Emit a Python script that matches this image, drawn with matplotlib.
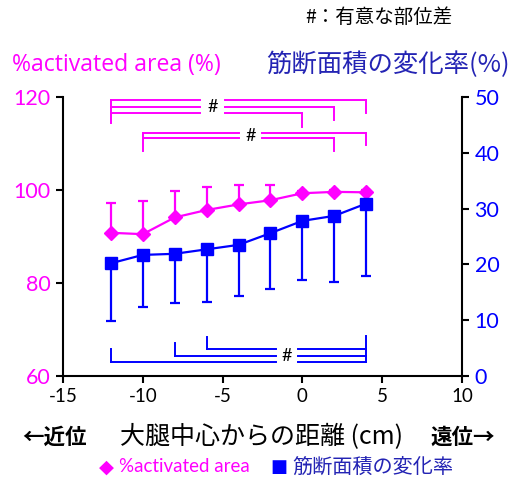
import matplotlib
matplotlib.use("Agg")
import matplotlib.pyplot as plt
import numpy as np

# --- data -------------------------------------------------------------
distance_cm = [-12, -10, -8, -6, -4, -2, 0, 2, 4]
activated_area = [90.8, 90.5, 94.1, 95.7, 96.9, 97.8, 99.3, 99.6, 99.5]
activated_sd = [6.3, 7.2, 5.7, 5.0, 4.2, 3.3, 0.5, 0.5, 0.5]
csa_change = [20.2, 21.7, 21.9, 22.7, 23.5, 25.6, 27.8, 28.7, 30.9]
csa_sd = [10.3, 9.3, 8.8, 9.4, 9.2, 10.0, 10.6, 11.9, 13.0]

x_ticks = [-15, -10, -5, 0, 5, 10]
left_ticks = [60, 80, 100, 120]
right_ticks = [0, 10, 20, 30, 40, 50]

# significant pairwise comparisons (from, to)
area_pairs_a = [(-12, 4), (-12, 2), (-12, 0)]
area_pairs_b = [(-10, 4), (-10, 2)]
csa_pairs = [(-6, 4), (-8, 4), (-12, 4)]

PINK = "#ff00ff"
BLUE = "#0000ff"
DARK_BLUE = "#2424b4"
JP = ["Lato", "Noto Sans CJK JP"]
OS = ["Open Sans", "Noto Sans CJK JP"]
JPF = ["Noto Sans CJK JP", "DejaVu Sans"]
LW = 1.4

W, H = 518, 482
fig = plt.figure(figsize=(W / 100, H / 100), dpi=100)
ax = fig.add_axes([63 / W, 1 - 376 / H, (462 - 63) / W, (376 - 97) / H])
ax2 = ax.twinx()

# %activated area (left axis), upward error bars only
ax.errorbar(distance_cm, activated_area,
            yerr=[np.zeros(len(activated_sd)), activated_sd],
            color=PINK, marker="D", markersize=7.5, lw=1.6,
            elinewidth=1.6, capsize=3.5, capthick=1.6, zorder=3)

# CSA change (right axis), downward error bars only
ax2.errorbar(distance_cm, csa_change,
             yerr=[csa_sd, np.zeros(len(csa_sd))],
             color=BLUE, marker="s", markersize=8, lw=1.6,
             elinewidth=1.6, capsize=3.5, capthick=1.6, zorder=3)

ax.set_xlim(-15, 10)
ax.set_ylim(60, 120)
ax2.set_ylim(0, 50)
ax.set_xticks(x_ticks)
ax.set_yticks(left_ticks)
ax2.set_yticks(right_ticks)
ax.set_xticklabels([f"{t}" for t in x_ticks], family=JP, fontsize=13.5)
ax.set_yticklabels([f"{t}" for t in left_ticks], family=JP, fontsize=15.5, color=PINK)
ax2.set_yticklabels([f"{t}" for t in right_ticks], family=JP, fontsize=15.5, color=BLUE)

for a in (ax, ax2):
    a.spines["top"].set_visible(False)
    for s in a.spines.values():
        s.set_linewidth(1.5)
ax.spines["right"].set_visible(False)
ax2.spines["left"].set_visible(False)
ax2.spines["bottom"].set_visible(False)
ax.tick_params(axis="both", direction="out", length=5, width=1.5, pad=4)
ax2.tick_params(axis="y", direction="out", length=5, width=1.5, pad=4)


def seg(a, xs, ys, color):
    a.plot(xs, ys, color=color, lw=LW, clip_on=False, zorder=4,
           solid_capstyle="projecting")


def bracket_group(a, pairs, levels, drop, left_drop, gap, label_x, color):
    """Comparisons sharing one left point, with a gap for the '#' mark."""
    left = pairs[0][0]
    for (x0, x1), y in zip(pairs, levels):
        seg(a, [x0, gap[0]], [y, y], color)
        seg(a, [gap[1], x1], [y, y], color)
        seg(a, [x1, x1], [y, y - drop], color)
    seg(a, [left, left], [max(levels), min(levels) - left_drop], color)
    a.text(label_x, np.mean(levels), "#", ha="center", va="center", fontsize=13,
           family=JP, color="black", zorder=5)


# pink comparisons: -12 vs 0/2/4 and -10 vs 2/4
bracket_group(ax, area_pairs_a, [119.4, 117.9, 116.5], 2.9, 2.1,
              (-6.42, -4.85), -5.6, PINK)
bracket_group(ax, area_pairs_b, [112.3, 111.1], 2.7, 2.7,
              (-3.97, -2.53), -3.25, PINK)

# blue comparisons: -6/-8/-12 vs 4
clv = [4.78, 3.64, 2.57]
for (x0, x1), y in zip(csa_pairs, clv):
    seg(ax2, [x0, -1.65], [y, y], BLUE)
    seg(ax2, [-0.3, x1], [y, y], BLUE)
    seg(ax2, [x0, x0], [y, y + 2.2], BLUE)
seg(ax2, [4, 4], [clv[-1], 7.2], BLUE)
ax2.text(-0.95, np.mean(clv), "#", ha="center", va="center", fontsize=13,
         family=JP, color="black", zorder=5)

# --- text around the plot ---------------------------------------------
def px(x, y):
    return x / W, 1 - y / H

fig.text(*px(305, 17), "#：有意な部位差", family=JPF, fontsize=14, va="center", ha="left")
fig.text(*px(12, 65), "%activated area (%)", family=OS, fontsize=16.6,
         color=PINK, va="center", ha="left")
fig.text(*px(510, 65), "筋断面積の変化率(%)", family=JPF, fontsize=18.3,
         color=DARK_BLUE, va="center", ha="right")
fig.text(*px(22, 437), "←近位", family=JPF, fontsize=15.5, fontweight="bold",
         va="center", ha="left")
fig.text(*px(262, 437), "大腿中心からの距離 (cm)", family=JPF, fontsize=18,
         va="center", ha="center")
fig.text(*px(495, 437), "遠位→", family=JPF, fontsize=15.5, fontweight="bold",
         va="center", ha="right")

# legend row
fig.text(*px(99, 467), "◆", family=["DejaVu Sans"], fontsize=14, color=PINK,
         va="center", ha="left")
fig.text(*px(119, 467), "%activated area", family=JP, fontsize=13.5, color=PINK,
         va="center", ha="left")
fig.text(*px(270, 467), "■", family=["DejaVu Sans"], fontsize=13, color=BLUE,
         va="center", ha="left")
fig.text(*px(292, 467), "筋断面積の変化率", family=JPF, fontsize=14.5,
         color=DARK_BLUE, va="center", ha="left")

fig.savefig("out.png", dpi=100)
